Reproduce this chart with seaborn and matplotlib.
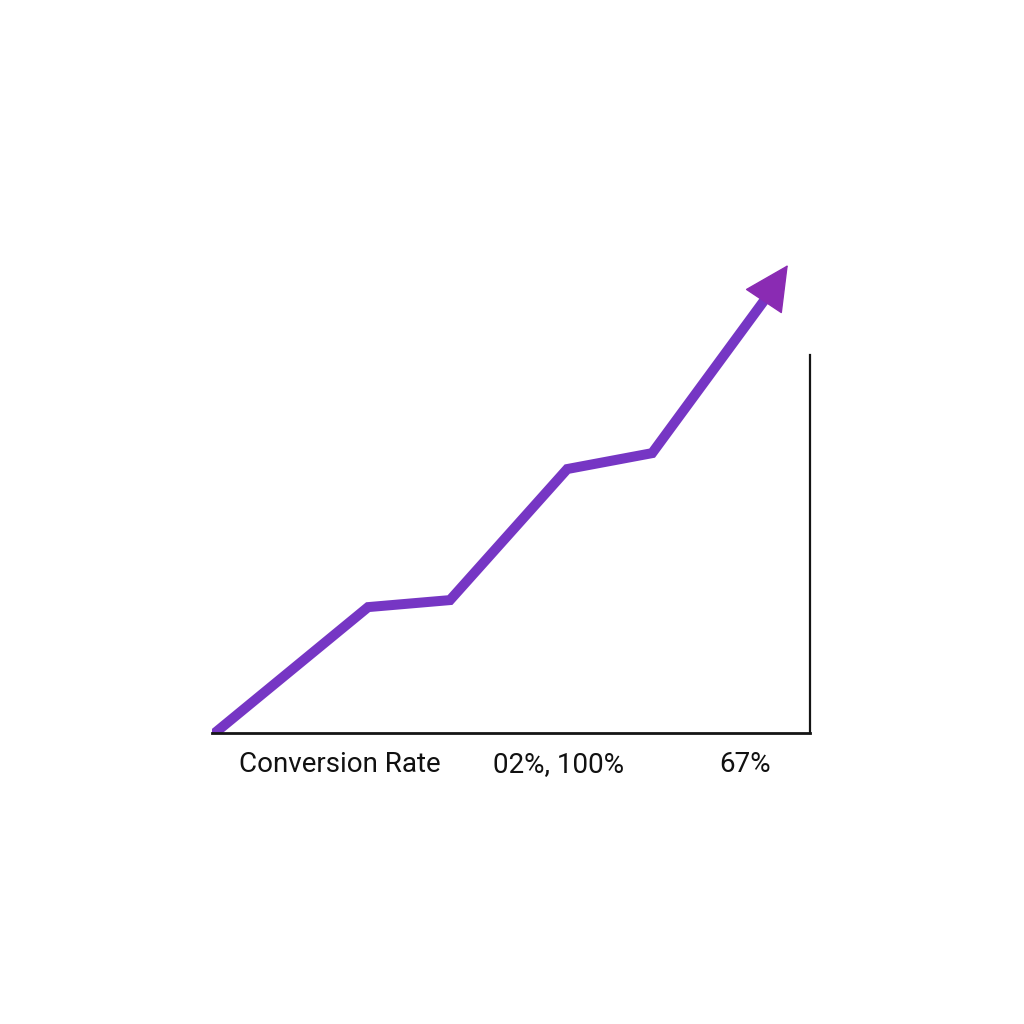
import matplotlib
matplotlib.use("Agg")
import matplotlib.pyplot as plt
import seaborn as sns
import numpy as np
import pandas as pd

sns.set_theme(style="white")
plt.rcParams['font.family'] = ['Roboto', 'DejaVu Sans']

# data
x_vals = [0.0, 26.1, 39.8, 59.4, 73.6, 92.5]
y_vals = [-0.5, 26.9, 28.4, 56.4, 59.8, 92.7]
arrow_tip = (96.3, 100.0)
tick_pos = [21.3, 57.9, 89.1]
tick_labels = ["Conversion Rate", "02%, 100%", "67%"]

line_color = "#7636C4"
arrow_color = "#8A2BB3"

fig = plt.figure(figsize=(10.24, 10.24), dpi=100)
W = H = 1024
left, right, bottom, top = 212, 810, 733, 265
ax = fig.add_axes([left / W, 1 - bottom / H, (right - left) / W, (bottom - top) / H])
ax.set_xlim(0, 100)
ax.set_ylim(0, 100)

df = pd.DataFrame({"x": x_vals, "y": y_vals})
sns.lineplot(data=df, x="x", y="y", ax=ax, color=line_color, linewidth=7.2,
             sort=False, solid_capstyle="butt", solid_joinstyle="miter", clip_on=True)

ax.annotate("", xy=arrow_tip, xytext=(x_vals[-1], y_vals[-1]),
            arrowprops=dict(arrowstyle="-|>,head_length=30,head_width=15",
                            mutation_scale=1, color=arrow_color, lw=1,
                            shrinkA=0, shrinkB=0),
            annotation_clip=False)

for s in ["top", "left"]:
    ax.spines[s].set_visible(False)
ax.spines["bottom"].set_color("#151515")
ax.spines["bottom"].set_linewidth(2.0)
ax.spines["bottom"].set_zorder(3)
ax.spines["right"].set_color("#151515")
ax.spines["right"].set_linewidth(1.6)
ax.spines["right"].set_bounds(0, (733 - 355) / (733 - 265) * 100)

ax.set_yticks([])
ax.set_xticks(tick_pos)
ax.set_xticklabels(tick_labels, fontsize=20, color="#111111")
ax.tick_params(axis="x", length=0, pad=13)
ax.set_xlabel("")
ax.set_ylabel("")
ax.set_facecolor("none")

fig.savefig("out.png", dpi=100, facecolor="white")
